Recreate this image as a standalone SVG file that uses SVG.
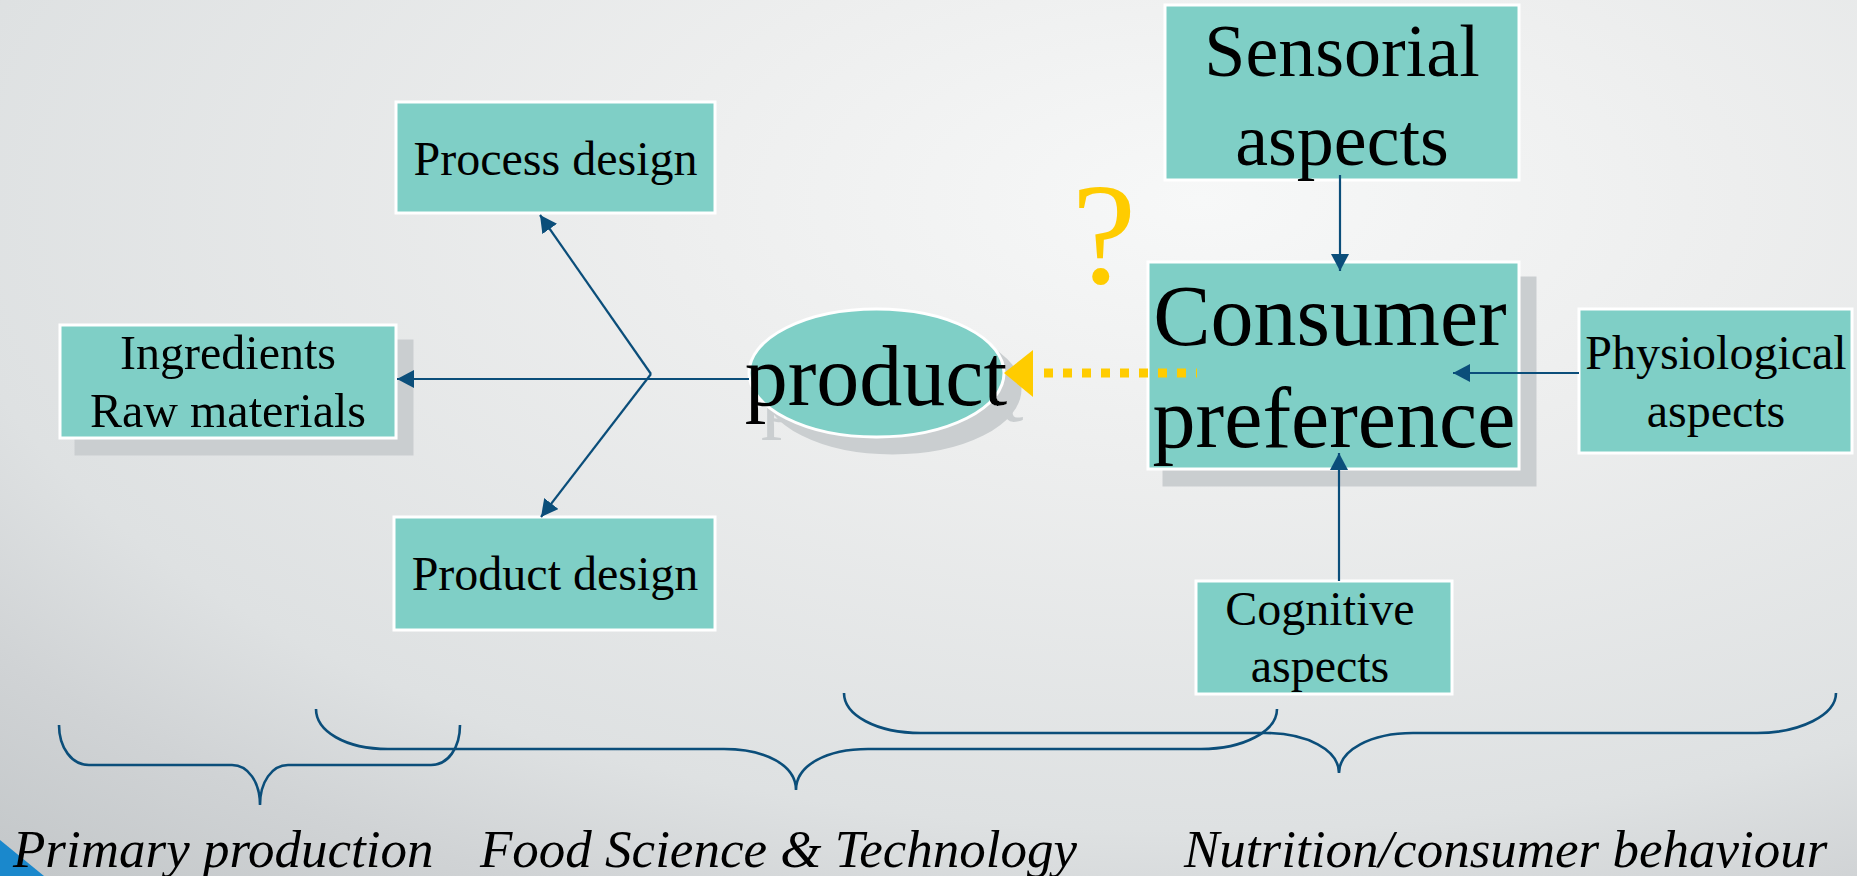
<svg xmlns="http://www.w3.org/2000/svg" width="1857" height="876" viewBox="0 0 1857 876">
<defs>
<radialGradient id="bg" gradientUnits="userSpaceOnUse" cx="1200" cy="200" r="900" gradientTransform="translate(1200,200) scale(2,1) translate(-1200,-200)">
<stop offset="0" stop-color="#f7f8f8"/>
<stop offset="0.3" stop-color="#edeeee"/>
<stop offset="0.7" stop-color="#dee1e2"/>
<stop offset="0.84" stop-color="#d0d3d5"/>
<stop offset="1" stop-color="#c3c7c9"/>
</radialGradient>
<filter id="sh" x="-10%" y="-10%" width="130%" height="140%">
<feOffset in="SourceAlpha" dx="16" dy="16" result="o"/>
<feFlood flood-color="#caced0"/>
<feComposite in2="o" operator="in" result="s"/>
<feMerge><feMergeNode in="s"/><feMergeNode in="SourceGraphic"/></feMerge>
</filter>
<marker id="ah" markerUnits="userSpaceOnUse" markerWidth="18" markerHeight="18" refX="17" refY="9" orient="auto">
<path d="M0,0 L17,9 L0,18 z" fill="#0b4e7a"/>
</marker>
<style>
.box{fill:#7fcfc6;stroke:#ffffff;stroke-width:3}
.t{font-family:"Liberation Serif","Times New Roman",serif;fill:#000000;text-anchor:middle}
.s48{font-size:48px}
.con{fill:none;stroke:#0b4e7a;stroke-width:2.2}
.brace{fill:none;stroke:#0b4e7a;stroke-width:2.6}
.lbl{font-family:"Liberation Serif","Times New Roman",serif;font-style:italic;font-size:53px;fill:#000000}
</style>
</defs>
<rect x="0" y="0" width="1857" height="876" fill="url(#bg)"/>
<polygon points="0,840 44,876 0,876" fill="#1a88cc"/>

<g id="braces">
<path class="brace" d="M59,725 C59,748 72,765 89,765 H232 C248,765 260,782 260,805 C260,782 272,765 288,765 H431 C448,765 460,748 460,725"/>
<path class="brace" d="M316,709 C316,731 345,749 388,749 H724 C765,749 796,765 796,790 C796,765 827,749 868,749 H1201 C1244,749 1277,731 1277,709"/>
<path class="brace" d="M844,693 C844,715 876,733 921,733 H1265 C1307,733 1339,750 1339,773 C1339,750 1371,733 1413,733 H1757 C1800,733 1836,715 1836,693"/>
</g>

<g id="process-design">
<rect class="box" x="396" y="102" width="319" height="111"/>
<text class="t s48" x="555.5" y="175">Process design</text>
</g>

<g id="ingredients" filter="url(#sh)">
<rect class="box" x="60" y="325" width="336" height="113"/>
<text class="t s48" x="228" y="369">Ingredients</text>
<text class="t s48" x="228" y="427">Raw materials</text>
</g>

<g id="product-design">
<rect class="box" x="394" y="517" width="321" height="113"/>
<text class="t s48" x="555" y="590">Product design</text>
</g>

<g id="product" filter="url(#sh)">
<ellipse cx="876.5" cy="373" rx="127.5" ry="64" fill="#7fcfc6" stroke="#ffffff" stroke-width="3"/>
<text class="t" x="876" y="405" font-size="86">product</text>
</g>

<g id="sensorial">
<rect class="box" x="1165" y="5" width="354" height="175"/>
<text class="t" x="1342" y="76" font-size="74">Sensorial</text>
<text class="t" x="1342" y="165" font-size="74">aspects</text>
</g>

<g id="consumer-preference" filter="url(#sh)">
<rect class="box" x="1148" y="262" width="371" height="207"/>
<text class="t" x="1330" y="345" font-size="86">Consumer</text>
<text class="t" x="1334" y="447" font-size="86">preference</text>
</g>

<g id="physiological">
<rect class="box" x="1579" y="309" width="273" height="144"/>
<text class="t s48" x="1716" y="369">Physiological</text>
<text class="t s48" x="1716" y="427">aspects</text>
</g>

<g id="cognitive">
<rect class="box" x="1196" y="581" width="256" height="113"/>
<text class="t s48" x="1320" y="625">Cognitive</text>
<text class="t s48" x="1320" y="682">aspects</text>
</g>

<g id="question">
<text x="1104" y="283" font-family="Liberation Serif, Times New Roman, serif" font-size="145" fill="#ffcc00" text-anchor="middle">?</text>
</g>

<g id="connectors">
<path class="con" stroke-width="2.8" d="M749,379 H397" marker-end="url(#ah)"/>
<path class="con" d="M651,374 L540,215" marker-end="url(#ah)"/>
<path class="con" d="M651,374 L541,517" marker-end="url(#ah)"/>
<path class="con" d="M1340,175 V271" marker-end="url(#ah)"/>
<path class="con" d="M1579,373 H1453" marker-end="url(#ah)"/>
<path class="con" d="M1339,581 V453" marker-end="url(#ah)"/>
<path d="M1197,373 H1034" fill="none" stroke="#ffcc00" stroke-width="9" stroke-dasharray="9 10" stroke-dashoffset="8"/>
<polygon points="1004,373 1033,350 1033,397" fill="#ffcc00"/>
</g>

<g id="labels">
<text class="lbl" x="13" y="867">Primary production</text>
<text class="lbl" x="480" y="867">Food Science &amp; Technology</text>
<text class="lbl" x="1184" y="867">Nutrition/consumer behaviour</text>
</g>
</svg>
